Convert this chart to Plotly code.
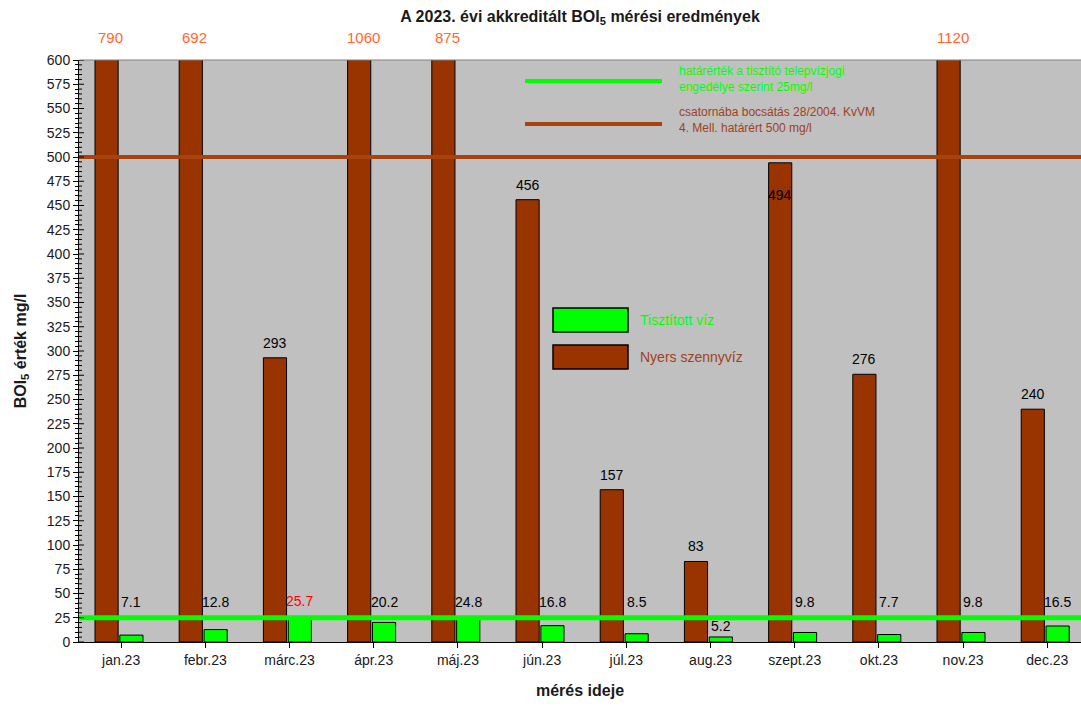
import plotly.graph_objects as go

# Monthly BOI5 measurements (mg/l)
months = ["jan.23", "febr.23", "márc.23", "ápr.23", "máj.23", "jún.23",
          "júl.23", "aug.23", "szept.23", "okt.23", "nov.23", "dec.23"]
raw = [790, 692, 293, 1060, 875, 456, 157, 83, 494, 276, 1120, 240]
treated = [7.1, 12.8, 25.7, 20.2, 24.8, 16.8, 8.5, 5.2, 9.8, 7.7, 9.8, 16.5]

limit_treated = 25
limit_sewer = 500
y_max = 600
y_ticks = list(range(0, 601, 25))
y_minor = list(range(0, 601, 5))

BROWN = "#993300"
GREEN = "#00FF00"
FONT = "Liberation Sans, Arial, sans-serif"

L, R, T, B = 79, 0, 60, 67
W, H = 1081, 709
PW, PH = W - L - R, H - T - B


def px(x):
    return (x - L) / PW


def py(y):
    return (H - B - y) / PH


xs = list(range(len(months)))

fig = go.Figure()
fig.add_trace(go.Bar(x=xs, y=raw, name="Nyers szennyvíz", marker_color=BROWN,
                     marker_line=dict(color="black", width=1),
                     width=0.275, offset=-0.31))
fig.add_trace(go.Bar(x=xs, y=treated, name="Tisztított víz", marker_color=GREEN,
                     marker_line=dict(color="black", width=1),
                     width=0.275, offset=-0.015))

ann = []
for i, v in enumerate(raw):
    xc = i - 0.31 + 0.1375
    if v > y_max:
        ann.append(dict(x=xc, y=1, yref="paper", text=str(v), showarrow=False,
                        yanchor="bottom", yshift=12, xshift=4,
                        font=dict(size=15, color="#FF6633", family=FONT)))
    elif abs(v - limit_sewer) < 15:
        ann.append(dict(x=xc, y=v, text=str(v), showarrow=False,
                        yanchor="top", yshift=-22,
                        font=dict(size=14, color="black", family=FONT)))
    else:
        ann.append(dict(x=xc, y=v, text=str(v), showarrow=False,
                        yanchor="bottom", yshift=5,
                        font=dict(size=14, color="black", family=FONT)))

for i, v in enumerate(treated):
    xc = i - 0.015 + 0.1375
    color = "#FF0000" if v > limit_treated else "black"
    base = max(v, limit_treated) if v >= 7 else v
    ann.append(dict(x=xc, y=base, text=str(v), showarrow=False,
                    yanchor="bottom", yshift=6 if v >= 7 else 1,
                    font=dict(size=14, color=color, family=FONT)))

# Legend for the limit lines and the bar series
ann += [
    dict(x=px(677), y=py(79), xref="paper", yref="paper", xanchor="left",
         yanchor="middle", showarrow=False, align="left",
         text="határérték a tisztító telepvízjogi<br>engedélye szerint 25mg/l",
         font=dict(size=12, color=GREEN, family=FONT)),
    dict(x=px(677), y=py(120), xref="paper", yref="paper", xanchor="left",
         yanchor="middle", showarrow=False, align="left",
         text="csatornába bocsátás 28/2004. KvVM<br>4. Mell. határért 500 mg/l",
         font=dict(size=12, color="#A0401A", family=FONT)),
    dict(x=px(638), y=py(320), xref="paper", yref="paper", xanchor="left",
         yanchor="middle", showarrow=False, text="Tisztított víz",
         font=dict(size=14, color=GREEN, family=FONT)),
    dict(x=px(638), y=py(357), xref="paper", yref="paper", xanchor="left",
         yanchor="middle", showarrow=False, text="Nyers szennyvíz",
         font=dict(size=14, color="#A0401A", family=FONT)),
]

shapes = [
    dict(type="line", xref="paper", x0=0, x1=1, yref="y", y0=limit_sewer,
         y1=limit_sewer, line=dict(color="#A8420F", width=4), layer="above"),
    dict(type="line", xref="paper", x0=0, x1=1, yref="y", y0=limit_treated,
         y1=limit_treated, line=dict(color=GREEN, width=5), layer="above"),
    dict(type="line", xref="paper", yref="paper", x0=px(525), x1=px(662),
         y0=py(81), y1=py(81), line=dict(color=GREEN, width=4)),
    dict(type="line", xref="paper", yref="paper", x0=px(525), x1=px(662),
         y0=py(124), y1=py(124), line=dict(color="#A8420F", width=4)),
    dict(type="rect", xref="paper", yref="paper", x0=px(553), x1=px(628),
         y0=py(308), y1=py(332), fillcolor=GREEN,
         line=dict(color="black", width=1.5)),
    dict(type="rect", xref="paper", yref="paper", x0=px(553), x1=px(628),
         y0=py(345), y1=py(369), fillcolor=BROWN,
         line=dict(color="black", width=1.5)),
    # thin frame line along the top of the plot area
    dict(type="line", xref="paper", yref="paper", x0=0, x1=1, y0=1, y1=1,
         line=dict(color="#808080", width=1)),
]

# inner halves of the y ticks, so the ticks cross the axis line
for t in y_minor:
    ln = 5 if t in y_ticks else 3
    shapes.append(dict(type="line", xref="paper", yref="y", x0=0,
                       x1=ln / PW, y0=t, y1=t, layer="above",
                       line=dict(color="black", width=1)))

fig.update_layout(
    width=W, height=H,
    margin=dict(l=L, r=R, t=T, b=B),
    paper_bgcolor="white",
    plot_bgcolor="#C0C0C0",
    showlegend=False,
    barmode="overlay",
    font=dict(family=FONT, size=14, color="#1a1a1a"),
    title=dict(text="A 2023. évi akkreditált BOI<sub>5</sub> mérési eredmények",
               x=0.5, xref="paper", xanchor="center", y=0.985, yanchor="top",
               font=dict(size=16, color="#1a1a1a", family=FONT, weight="bold")),
    xaxis=dict(tickmode="array", tickvals=xs, ticktext=months,
               range=[-0.5, 11.4], showgrid=False, zeroline=False,
               showline=True, linecolor="black", linewidth=1,
               ticks="outside", tickson="boundaries", ticklen=5,
               tickcolor="black", tickfont=dict(size=14),
               title=dict(text="mérés ideje", standoff=18,
                          font=dict(size=16, weight="bold"))),
    yaxis=dict(range=[0, y_max], tickmode="array", tickvals=y_ticks,
               showgrid=False, zeroline=False, showline=True,
               linecolor="black", linewidth=1, ticks="outside", ticklen=5,
               tickcolor="black",
               minor=dict(dtick=5, ticks="outside", ticklen=3,
                          tickcolor="black"),
               tickfont=dict(size=14),
               title=dict(text="BOI<sub>5</sub> érték mg/l", standoff=16,
                          font=dict(size=16, weight="bold"))),
    annotations=ann,
    shapes=shapes,
)

fig.write_html("out.html")
